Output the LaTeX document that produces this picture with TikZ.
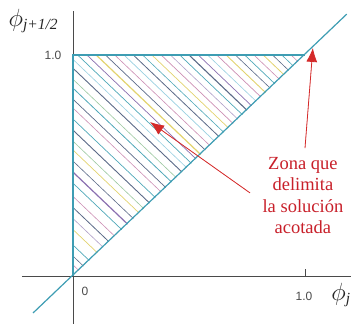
\documentclass[tikz,border=0pt]{standalone}
\usepackage{fontspec}
\setmainfont{Liberation Serif}
\setsansfont{Liberation Sans}
\usetikzlibrary{arrows.meta}
\definecolor{axisgray}{HTML}{4A4A4A}
\definecolor{edge}{HTML}{3E9DB3}
\definecolor{redarr}{HTML}{D42A2A}
\definecolor{redtxt}{HTML}{C8202A}
\definecolor{hA}{HTML}{4FA8B8}
\definecolor{hB}{HTML}{8A6FB0}
\definecolor{hC}{HTML}{E2D36E}
\definecolor{hD}{HTML}{5C6A88}
\definecolor{hE}{HTML}{CC8FB4}
\definecolor{hF}{HTML}{98CFE0}
\definecolor{hG}{HTML}{9CC8A0}
\definecolor{hH}{HTML}{B0A0C8}
\tikzset{
  axisline/.style={draw=axisgray, line width=0.9pt},
  edgeline/.style={draw=edge, line width=1.2pt},
  ticklbl/.style={font=\sffamily\fontsize{12}{14}\selectfont, text=axisgray},
  philbl/.style={font=\fontsize{23}{26}\selectfont, inner sep=0pt, text=black!85, anchor=west},
  redlabel/.style={font=\fontsize{18.5}{21.5}\selectfont, text=redtxt, align=center},
  redarrow/.style={draw=redarr, line width=0.8pt, -{Latex[length=14pt,width=11pt]}, fill=redarr},
}
\newcommand{\subtxt}[1]{\raisebox{-3pt}{\fontsize{15.5}{16}\selectfont\itshape #1}}
\newcommand{\myphi}{$\phi$}
\begin{document}
\begin{tikzpicture}[x=232pt,y=221pt]
\useasboundingbox (-0.3147,-0.2172) rectangle (1.1983,1.2489);
% hatch lines
\foreach \c/\col/\w in {0.05/hE/0.6,0.09/hD/0.6,0.14/hA/0.7,0.21/hC/0.7,0.26/hH/0.6,0.31/hD/0.8,0.36/hE/0.6,0.42/hA/0.7,0.47/hB/1.2,0.52/hD/0.6,0.57/hC/0.7,0.61/hG/0.6,0.66/hD/0.9,0.71/hA/0.7,0.76/hE/0.6,0.8/hD/0.7,0.85/hA/0.8,0.89/hG/0.6,0.94/hD/0.9,0.98/hF/0.6,1.02/hA/0.7,1.06/hB/0.7,1.1/hC/1.2,1.14/hD/0.7,1.18/hE/0.6,1.22/hF/0.7,1.26/hD/0.8,1.3/hA/0.6,1.34/hC/0.7,1.38/hE/0.7,1.42/hH/0.6,1.46/hA/0.7,1.5/hD/1.1,1.54/hB/0.7,1.58/hF/0.6,1.62/hE/0.7,1.66/hC/0.9,1.7/hD/0.6,1.74/hA/0.7,1.78/hE/0.6,1.82/hC/0.8,1.86/hD/0.6,1.9/hA/0.6,1.94/hE/0.6}{
  \draw[draw=\col, line width=\w pt] ({max(0,\c-1)},{min(1,\c)}) -- ({\c/2},{\c/2});
}
% axes
\coordinate (xl) at (-0.22,0);
\coordinate (xr) at (1.2,0);
\coordinate (yb) at (0,-0.217);
\coordinate (yt) at (0,1.2);
\coordinate (O) at (0,0);
\draw[axisline] (xl) -- (xr);
\draw[axisline] (yb) -- (yt);
\coordinate (t1) at (1,0);
\coordinate (t1u) at (1,0.03);
\draw[axisline] (t1) -- (t1u);
% triangle edges
\coordinate (top0) at (0,1);
\coordinate (top1) at (1,1);
\coordinate (dl) at (-0.172,-0.167);
\coordinate (du) at (1.18,1.185);
\draw[edgeline] (O) -- (top0) -- (top1);
\draw[edgeline] (dl) -- (du);
% labels
\node[ticklbl] (l10y) at (-0.086,1.0) {1.0};
\node[ticklbl] (l0) at (0.052,-0.068) {0};
\node[ticklbl] (l10x) at (0.996,-0.09) {1.0};
\node[philbl] (phiy) at (-0.278,1.155) {\myphi\subtxt{j+1/2}};
\node[philbl] (phix) at (1.113,-0.086) {\myphi\subtxt{j}};
\node[redlabel] (zona) at (0.991,0.364) {Zona que\\delimita\\la solución\\acotada};
% arrows
\coordinate (a1s) at (0.763,0.376);
\coordinate (a1e) at (0.332,0.697);
\coordinate (a2s) at (1.0,0.579);
\coordinate (a2e) at (1.034,1.032);
\draw[redarrow] (a1s) -- (a1e);
\draw[redarrow] (a2s) -- (a2e);
\end{tikzpicture}
\end{document}
